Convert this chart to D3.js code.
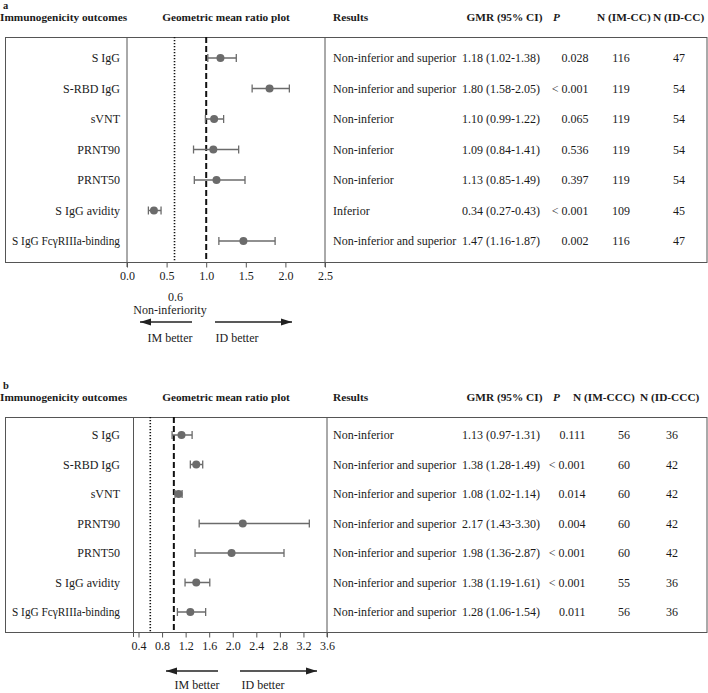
<!DOCTYPE html>
<html><head><meta charset="utf-8">
<script src="https://cdn.jsdelivr.net/npm/d3@7"></script>
<style>
body{margin:0;background:#fff;}
svg text{font-family:"Liberation Serif","Times New Roman",serif;fill:#1a1a1a;}
</style></head>
<body><svg id="c" width="708" height="693"></svg>
<script>
const outcomes = ["S IgG","S-RBD IgG","sVNT","PRNT90","PRNT50","S IgG avidity","S IgG FcγRIIIa-binding"];

const aGmr = [1.18,1.80,1.10,1.09,1.13,0.34,1.47];
const aLo  = [1.02,1.58,0.99,0.84,0.85,0.27,1.16];
const aHi  = [1.38,2.05,1.22,1.41,1.49,0.43,1.87];
const aResults = ["Non-inferior and superior","Non-inferior and superior","Non-inferior","Non-inferior","Non-inferior","Inferior","Non-inferior and superior"];
const aP = ["0.028","< 0.001","0.065","0.536","0.397","< 0.001","0.002"];
const aNIM = [116,119,119,119,119,109,116];
const aNID = [47,54,54,54,54,45,47];
const aTicks = [0.0,0.5,1.0,1.5,2.0,2.5];

const bGmr = [1.13,1.38,1.08,2.17,1.98,1.38,1.28];
const bLo  = [0.97,1.28,1.02,1.43,1.36,1.19,1.06];
const bHi  = [1.31,1.49,1.14,3.30,2.87,1.61,1.54];
const bResults = ["Non-inferior","Non-inferior and superior","Non-inferior and superior","Non-inferior and superior","Non-inferior and superior","Non-inferior and superior","Non-inferior and superior"];
const bP = ["0.111","< 0.001","0.014","0.004","< 0.001","< 0.001","0.011"];
const bNIM = [56,60,60,60,60,55,56];
const bNID = [36,42,42,42,42,36,36];
const bTicks = [0.4,0.8,1.2,1.6,2.0,2.4,2.8,3.2,3.6];

const nonInf = 0.6;

const svg = d3.select("#c");
const f2 = d3.format(".2f");
const FS = 12, HFS = 11.3;

function panel(o){
  const g = svg.append("g");
  const x = d3.scaleLinear().domain(o.domain).range(o.xr);
  const y = d3.scalePoint().domain(outcomes).range(o.yr);
  const lineC = "#555";
  g.append("text").attr("x",3).attr("y",o.top-28).attr("font-size",10.5).attr("font-weight","bold").text(o.letter);
  const hy = o.top-16;
  const hdr = (t,xx,anchor,extra) => {
    const tt = g.append("text").attr("x",xx).attr("y",hy).attr("font-size",HFS).attr("font-weight","bold").attr("text-anchor",anchor||"start").text(t);
    if(extra) extra(tt);
  };
  hdr("Immunogenicity outcomes",0);
  hdr("Geometric mean ratio plot",226,"middle");
  hdr("Results",333);
  hdr("GMR (95% CI)",466.5);
  hdr("P",553,"start",t=>t.attr("font-style","italic"));
  hdr(o.hIM,o.hIMx);
  hdr(o.hID,o.hIDx);
  g.append("rect").attr("x",5.5).attr("y",o.top+0.5).attr("width",701.5).attr("height",o.bottom-o.top)
    .attr("fill","none").attr("stroke",lineC).attr("stroke-width",1);
  [o.xr[0],o.xr[1]].forEach(v=>{
    g.append("line").attr("x1",v).attr("x2",v).attr("y1",o.top).attr("y2",o.bottom+5).attr("stroke",lineC).attr("stroke-width",1);
  });
  const ax = g.append("g").attr("transform",`translate(0,${o.bottom+0.5})`)
    .call(d3.axisBottom(x).tickValues(o.ticks).tickFormat(d3.format(".1f")).tickSize(5).tickPadding(4).tickSizeOuter(0));
  ax.select(".domain").remove();
  ax.selectAll("line").attr("stroke",lineC);
  ax.selectAll("text").attr("font-size",FS).attr("font-family","Liberation Serif").attr("fill","#1a1a1a");
  g.append("line").attr("x1",x(nonInf)).attr("x2",x(nonInf)).attr("y1",o.top).attr("y2",o.bottom)
    .attr("stroke","#111").attr("stroke-width",1.6).attr("stroke-dasharray","1.2,1.8");
  g.append("line").attr("x1",x(1)).attr("x2",x(1)).attr("y1",o.top).attr("y2",o.bottom)
    .attr("stroke","#111").attr("stroke-width",2).attr("stroke-dasharray","6,3");
  const ptC = "#6b6b6b";
  outcomes.forEach((name,i)=>{
    const yy = y(name);
    const ty = yy+4.2;
    const lab = g.append("text").attr("x",120).attr("y",ty).attr("font-size",FS).attr("text-anchor","end").text(name);
    if(name.length>15) lab.attr("textLength",108).attr("lengthAdjust","spacingAndGlyphs");
    g.append("line").attr("x1",x(o.lo[i])).attr("x2",x(o.hi[i])).attr("y1",yy).attr("y2",yy).attr("stroke",ptC).attr("stroke-width",1.5);
    [o.lo[i],o.hi[i]].forEach(v=>g.append("line").attr("x1",x(v)).attr("x2",x(v)).attr("y1",yy-4).attr("y2",yy+4).attr("stroke",ptC).attr("stroke-width",1.3));
    g.append("circle").attr("cx",x(o.gmr[i])).attr("cy",yy).attr("r",4).attr("fill",ptC);
    g.append("text").attr("x",333).attr("y",ty).attr("font-size",FS).text(o.results[i]);
    g.append("text").attr("x",462).attr("y",ty).attr("font-size",FS).text(`${f2(o.gmr[i])} (${f2(o.lo[i])}-${f2(o.hi[i])})`);
    g.append("text").attr("x",o.px).attr("y",ty).attr("font-size",FS).attr("text-anchor","end").text(o.p[i]);
    g.append("text").attr("x",o.nimx).attr("y",ty).attr("font-size",FS).attr("text-anchor","middle").text(o.nim[i]);
    g.append("text").attr("x",o.nidx).attr("y",ty).attr("font-size",FS).attr("text-anchor","middle").text(o.nid[i]);
  });
  const arr = (x1,x2,yy) => {
    g.append("line").attr("x1",x1).attr("x2",x2).attr("y1",yy).attr("y2",yy).attr("stroke","#222").attr("stroke-width",1.3);
    const d = x2>x1?1:-1;
    g.append("path").attr("d",`M${x2},${yy} L${x2-d*11},${yy-3.5} L${x2-d*11},${yy+3.5} Z`).attr("fill","#222");
  };
  arr(o.arL[0],o.arL[1],o.arY);
  arr(o.arR[0],o.arR[1],o.arY);
  g.append("text").attr("x",o.imx).attr("y",o.arY+o.lblDy).attr("font-size",FS).attr("text-anchor","middle").text("IM better");
  g.append("text").attr("x",o.idx).attr("y",o.arY+o.lblDy).attr("font-size",FS).attr("text-anchor","middle").text("ID better");
  if(o.showNI){
    g.append("text").attr("x",x(nonInf)+1).attr("y",o.arY-21).attr("font-size",FS).attr("text-anchor","middle").text(d3.format(".1f")(nonInf));
    g.append("text").attr("x",170).attr("y",o.arY-8).attr("font-size",FS).attr("text-anchor","middle").text("Non-inferiority");
  }
}

panel({letter:"a",top:37,bottom:262,domain:[0,2.5],xr:[127,325],yr:[58,241],ticks:aTicks,
  gmr:aGmr,lo:aLo,hi:aHi,results:aResults,p:aP,nim:aNIM,nid:aNID,
  hIM:"N (IM-CC)",hIMx:597,hID:"N (ID-CC)",hIDx:653,px:588.5,nimx:621,nidx:679,
  arY:322,arL:[192,140],arR:[215,292],imx:170,idx:237,lblDy:20,showNI:true});

panel({letter:"b",top:417,bottom:632,domain:[0.315,3.6],xr:[133.5,327],yr:[435,612],ticks:bTicks,
  gmr:bGmr,lo:bLo,hi:bHi,results:bResults,p:bP,nim:bNIM,nid:bNID,
  hIM:"N (IM-CCC)",hIMx:573,hID:"N (ID-CCC)",hIDx:640,px:585.5,nimx:624,nidx:672,
  arY:671,arL:[218,166],arR:[240,317],imx:197,idx:263,lblDy:17.5,showNI:false});
</script></body></html>
